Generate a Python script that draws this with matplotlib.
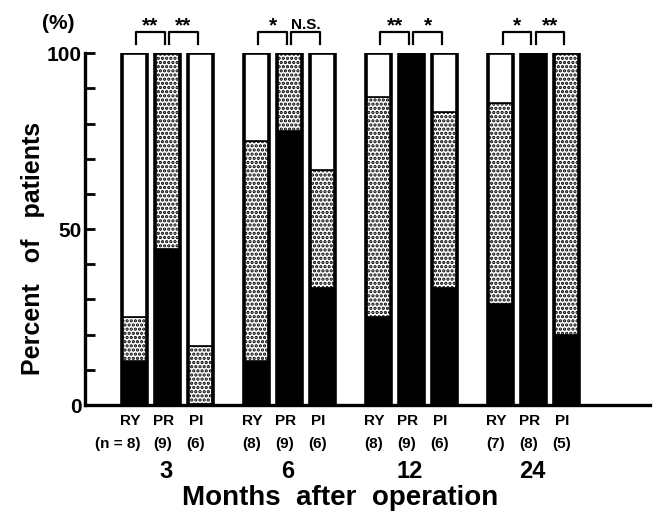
import numpy as np
import matplotlib
matplotlib.use("Agg")
import matplotlib.pyplot as plt

plt.rcParams['font.family'] = ['Liberation Sans', 'DejaVu Sans']
plt.rcParams['font.weight'] = 'bold'
plt.rcParams['hatch.linewidth'] = 1.6

# data (percent of patients), stacked bottom -> top: black, dotted, white
months = ["3", "6", "12", "24"]
groups = ["RY", "PR", "PI"]
n_labels = [["(n = 8)", "(9)", "(6)"],
            ["(8)", "(9)", "(6)"],
            ["(8)", "(9)", "(6)"],
            ["(7)", "(8)", "(5)"]]
black = [12.5, 44.4, 0.0, 12.5, 77.8, 33.3, 25.0, 100.0, 33.3, 28.6, 100.0, 20.0]
dotted = [12.5, 55.6, 16.7, 62.5, 22.2, 33.4, 62.5, 0.0, 50.0, 57.1, 0.0, 80.0]
white = [75.0, 0.0, 83.3, 25.0, 0.0, 33.3, 12.5, 0.0, 16.7, 14.3, 0.0, 0.0]
signif = [["**", "**"], ["*", "N.S."], ["**", "*"], ["*", "**"]]

gap = 3.7
x = np.array([g * gap + b for g in range(4) for b in range(3)])
w = 0.76

fig = plt.figure(figsize=(6.57, 5.16), dpi=100)
ax = fig.add_axes([0.129, 0.215, 0.860, 0.682])

bk = np.array(black)
dt = np.array(dotted)
wt = np.array(white)
ax.bar(x, bk, w, color='black', edgecolor='black', linewidth=1.2)
ax.bar(x, dt, w, bottom=bk, color='white', edgecolor='black', linewidth=1.2,
       hatch='....')
ax.bar(x, wt, w, bottom=bk + dt, color='white', edgecolor='black', linewidth=1.2)
ax.bar(x, bk + dt + wt, w, fill=False, edgecolor='black', linewidth=2.6,
       joinstyle='round')

ax.set_xlim(-1.5, 15.62)
ax.set_ylim(0, 100)
ax.spines['top'].set_visible(False)
ax.spines['right'].set_visible(False)
ax.spines['left'].set_bounds(0, 100)
ax.spines['left'].set_linewidth(2.4)
ax.spines['bottom'].set_linewidth(2.4)
ax.set_xticks([])
ax.set_yticks(np.arange(0, 101, 10))
ax.set_yticklabels(["0", "", "", "", "", "50", "", "", "", "", "100"])
ax.tick_params(axis='y', direction='in', length=7.5, width=2, labelsize=15, pad=2)

tr = ax.get_xaxis_transform()
for g in range(4):
    for b in range(3):
        xi = g * gap + b
        ax.text(xi - 0.12, -0.045, groups[b], transform=tr, ha='center', va='center',
                fontsize=11)
        off = 0.5 if n_labels[g][b].startswith("(n") else 0.15
        ax.text(xi - off, -0.112, n_labels[g][b], transform=tr, ha='center',
                va='center', fontsize=11)
    ax.text(g * gap + 0.95, -0.19, months[g], transform=tr, ha='center', va='center',
            fontsize=17)
    for k in range(2):
        x0 = g * gap + k + 0.06
        x1 = g * gap + k + 0.92
        ax.plot([x0, x0, x1, x1], [102.5, 106, 106, 102.5], color='black', lw=1.6,
                clip_on=False)
        if '*' in signif[g][k]:
            ax.text((x0 + x1) / 2, 106.3, signif[g][k], ha='center', va='baseline',
                    fontsize=15)
        else:
            ax.text((x0 + x1) / 2, 106.8, signif[g][k], ha='center', va='baseline',
                    fontsize=11)

fig.text(0.050, 0.519, "Percent   of   patients", rotation=90, ha='center',
         va='center', fontsize=18)
fig.text(0.088, 0.955, "(%)", ha='center', va='center', fontsize=15)
fig.text(0.517, 0.035, "Months  after  operation", ha='center', va='center', fontsize=20)

fig.savefig("out.png", dpi=100)
